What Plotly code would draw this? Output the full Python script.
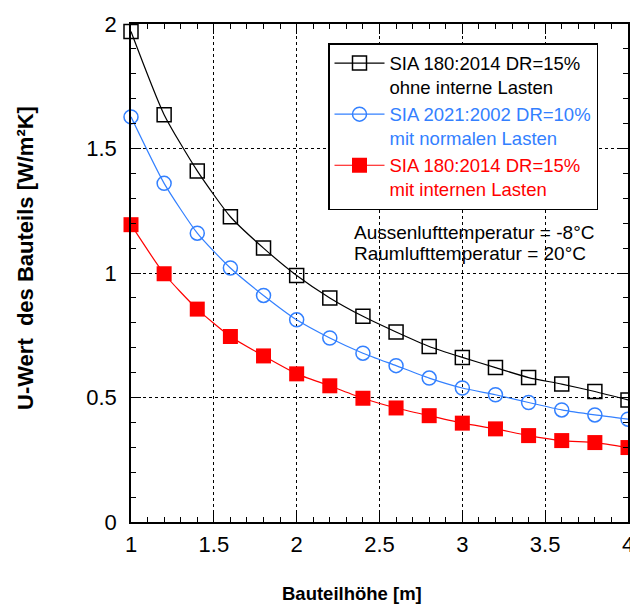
import plotly.graph_objects as go

x_height = [1.0, 1.2, 1.4, 1.6, 1.8, 2.0, 2.2, 2.4, 2.6, 2.8, 3.0, 3.2, 3.4, 3.6, 3.8, 4.0]
u_sia180_ohne = [1.97, 1.636, 1.41, 1.226, 1.10, 0.99, 0.90, 0.826, 0.763, 0.705, 0.661, 0.62, 0.58, 0.554, 0.524, 0.49]
u_sia2021 = [1.627, 1.36, 1.16, 1.02, 0.91, 0.812, 0.739, 0.678, 0.628, 0.578, 0.538, 0.511, 0.48, 0.45, 0.43, 0.413]
u_sia180_mit = [1.194, 0.997, 0.855, 0.745, 0.667, 0.595, 0.547, 0.497, 0.458, 0.427, 0.397, 0.374, 0.347, 0.327, 0.319, 0.299]

x_tickvals = [1, 1.5, 2, 2.5, 3, 3.5, 4]
x_ticktext = ["1", "1.5", "2", "2.5", "3", "3.5", "4"]
y_tickvals = [0, 0.5, 1, 1.5, 2]
y_ticktext = ["0", "0.5", "1", "1.5", "2"]

names = [
    '<span style="color:black">SIA 180:2014 DR=15%<br>ohne interne Lasten</span>',
    '<span style="color:#3380FF">SIA 2021:2002 DR=10%<br>mit normalen Lasten</span>',
    '<span style="color:#FF0000">SIA 180:2014 DR=15%<br>mit internen Lasten</span>',
]

BLUE = "#3380FF"
RED = "#FF0000"
FONT = "Arial, Liberation Sans"

fig = go.Figure()
fig.add_trace(go.Scatter(
    x=x_height, y=u_sia180_ohne, name=names[0], mode="lines+markers", cliponaxis=False,
    line=dict(color="black", width=1.2, shape="spline", smoothing=0.6),
    marker=dict(symbol="square-open", size=14, color="black", line=dict(width=1.5)),
))
fig.add_trace(go.Scatter(
    x=x_height, y=u_sia2021, name=names[1], mode="lines+markers", cliponaxis=False,
    line=dict(color=BLUE, width=1.2, shape="spline", smoothing=0.6),
    marker=dict(symbol="circle-open", size=14, color=BLUE, line=dict(width=1.5)),
))
fig.add_trace(go.Scatter(
    x=x_height, y=u_sia180_mit, name=names[2], mode="lines+markers", cliponaxis=False,
    line=dict(color=RED, width=1.2, shape="spline", smoothing=0.6),
    marker=dict(symbol="square", size=15, color=RED),
))

axis_common = dict(
    showline=True, linecolor="black", linewidth=1.5, mirror="allticks",
    ticks="inside", ticklen=10, tickwidth=1, tickcolor="black",
    showgrid=True, gridcolor="black", gridwidth=1, griddash="3px,3px",
    zeroline=False, automargin=False, ticklabeloverflow="allow",
    tickfont=dict(family=FONT, size=22, color="black"),
    minor=dict(ticks="inside", ticklen=5, tickwidth=1, tickcolor="black", showgrid=False),
)

fig.update_xaxes(range=[1, 4], ticklabelstandoff=2,
                 tickvals=x_tickvals, ticktext=x_ticktext, **axis_common)
fig.update_xaxes(minor_dtick=0.1, minor_tick0=1)
fig.update_yaxes(range=[0, 2], ticklabelstandoff=8,
                 tickvals=y_tickvals, ticktext=y_ticktext, **axis_common)
fig.update_yaxes(minor_dtick=0.1, minor_tick0=0)

fig.add_annotation(text="Bauteilhöhe [m]", xref="paper", yref="paper",
                   x=(352 - 131) / 497, y=-(593 - 522) / 498, showarrow=False,
                   font=dict(family=FONT, size=18.5, color="black", weight="bold"),
                   xanchor="center", yanchor="middle")
fig.add_annotation(text="U-Wert  des Bauteils [W/m²K]", xref="paper", yref="paper",
                   x=-(131 - 25) / 497, y=(522 - 258) / 498, showarrow=False, textangle=-90,
                   font=dict(family=FONT, size=22, color="black", weight="bold"),
                   xanchor="center", yanchor="middle")
fig.add_annotation(text="Aussenlufttemperatur = -8°C", xref="paper", yref="paper",
                   x=(352 - 131) / 497, y=(522 - 232) / 498, showarrow=False,
                   font=dict(family=FONT, size=19, color="black"),
                   xanchor="left", yanchor="middle")
fig.add_annotation(text="Raumlufttemperatur = 20°C", xref="paper", yref="paper",
                   x=(352 - 131) / 497, y=(522 - 254) / 498, showarrow=False,
                   font=dict(family=FONT, size=19, color="black"),
                   xanchor="left", yanchor="middle")

fig.update_layout(
    width=630, height=606,
    margin=dict(l=131, r=2, t=24, b=84, autoexpand=False),
    paper_bgcolor="white", plot_bgcolor="white",
    showlegend=True,
    legend=dict(
        x=(328 - 131) / 497, y=(522 - 43) / 498, xanchor="left", yanchor="top",
        bgcolor="white", bordercolor="black", borderwidth=1.5,
        font=dict(family=FONT, size=18.5, color="black"),
        valign="top", itemwidth=50, tracegroupgap=0,
    ),
    font=dict(family=FONT),
)

fig.write_html("out.html", config={"displayModeBar": False},
               post_script="document.body.style.margin='0';document.body.style.overflow='hidden';")
